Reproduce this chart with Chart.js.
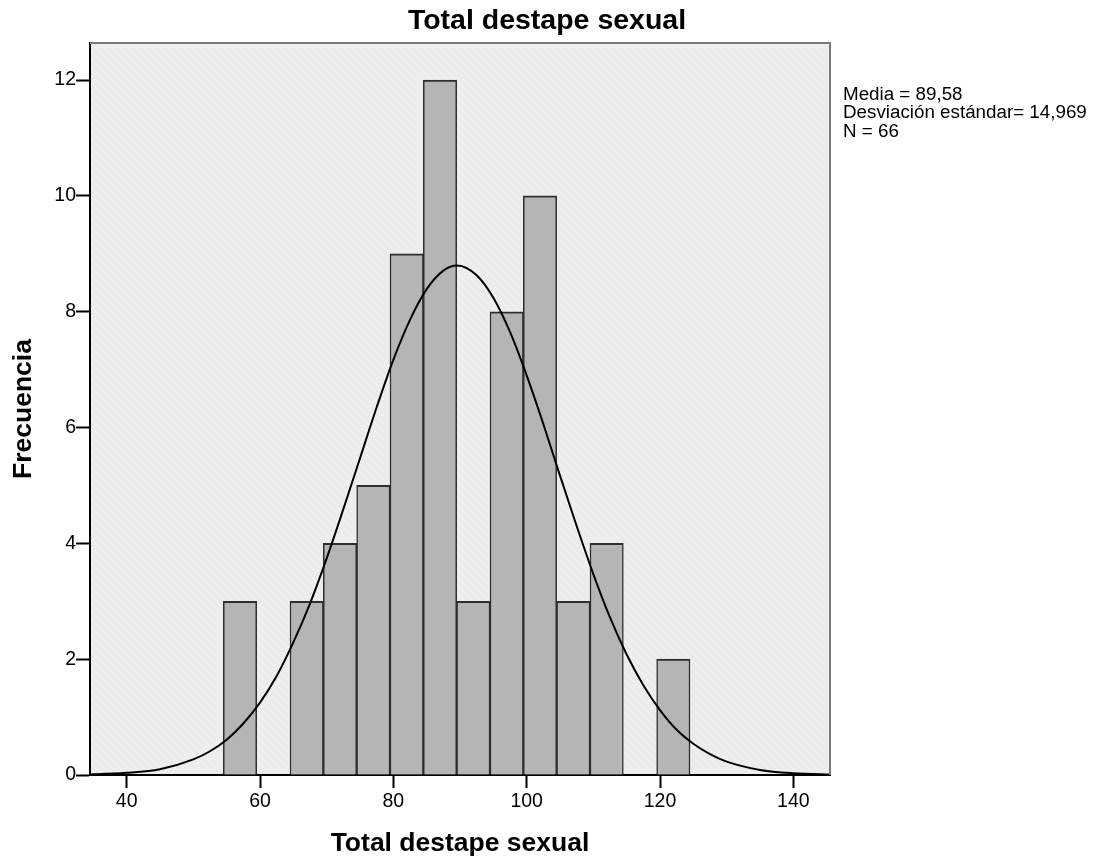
<!DOCTYPE html>
<html>
<head>
<meta charset="utf-8">
<script src="https://cdn.jsdelivr.net/npm/chart.js@4.4.1/dist/chart.umd.min.js"></script>
<style>
  html, body { margin: 0; padding: 0; background: #ffffff; }
  #wrap { width: 1102px; height: 861px; }
</style>
</head>
<body>
<div id="wrap"><canvas id="c" width="1102" height="861"></canvas></div>
<script>
// ---- data ----
const chartTitle = "Total destape sexual";
const xAxisTitle = "Total destape sexual";
const yAxisTitle = "Frecuencia";
const binCenters = [57, 62, 67, 72, 77, 82, 87, 92, 97, 102, 107, 112, 117, 122];
const frequencies = [3, 0, 3, 4, 5, 9, 12, 3, 8, 10, 3, 4, 0, 2];
const curveX = [34.5, 35, 40, 45, 50, 52.5, 55, 57.5, 60, 62.5, 65, 67.5, 70, 72.5, 75, 77.5, 80, 82.5, 85, 87.5, 89.58,
                92.5, 95, 97.5, 100, 102.5, 105, 107.5, 110, 112.5, 115, 117.5, 120, 122.5, 125, 127.5, 130, 135, 140, 145, 145.5];
const curveY = [0.010, 0.011, 0.037, 0.10, 0.27, 0.41, 0.61, 0.89, 1.25, 1.71, 2.29, 2.96, 3.74, 4.59, 5.47, 6.35, 7.17, 7.86, 8.39, 8.71, 8.80,
                8.63, 8.24, 7.65, 6.90, 6.06, 5.17, 4.30, 3.47, 2.72, 2.08, 1.55, 1.12, 0.78, 0.54, 0.36, 0.23, 0.088, 0.030, 0.009, 0.008];
const xTicks = [40, 60, 80, 100, 120, 140];
const yTicks = [0, 2, 4, 6, 8, 10, 12];
const statsLines = ["Media = 89,58", "Desviación estándar= 14,969", "N = 66"];

const xMin = 34.5, xMax = 145.5, yMin = 0, yMax = 12.64;

// dotted background pattern like the reference
function makePattern(ctx) {
  const p = document.createElement('canvas');
  p.width = 8; p.height = 8;
  const g = p.getContext('2d');
  g.fillStyle = '#ececec';
  g.fillRect(0, 0, 8, 8);
  g.fillStyle = 'rgba(255,255,255,0.85)';
  g.fillRect(1, 1, 1, 1);
  g.fillRect(5, 3, 1, 1);
  g.fillRect(3, 5, 1, 1);
  g.fillRect(7, 7, 1, 1);
  return ctx.createPattern(p, 'repeat');
}

const decor = {
  id: 'decor',
  beforeDraw(chart) {
    const {ctx, chartArea: a} = chart;
    ctx.save();
    ctx.fillStyle = makePattern(ctx);
    ctx.fillRect(a.left, a.top, a.right - a.left, a.bottom - a.top);
    ctx.restore();
  },
  afterDraw(chart) {
    const {ctx, chartArea: a} = chart;
    ctx.save();
    // top / right frame
    ctx.strokeStyle = '#7a7a7a';
    ctx.lineWidth = 2;
    ctx.beginPath();
    ctx.moveTo(a.left, a.top);
    ctx.lineTo(a.right, a.top);
    ctx.lineTo(a.right, a.bottom);
    ctx.stroke();
    // title
    ctx.fillStyle = '#000';
    ctx.font = 'bold 28.5px "Liberation Sans", Arial, sans-serif';
    ctx.textAlign = 'center';
    ctx.textBaseline = 'alphabetic';
    ctx.fillText(chartTitle, 547, 29);
    // stats
    ctx.font = '18.8px "Liberation Sans", Arial, sans-serif';
    ctx.textAlign = 'left';
    statsLines.forEach((s, i) => ctx.fillText(s, a.right + 13, 100 + i * 18.3));
    ctx.restore();
  }
};

new Chart(document.getElementById('c'), {
  type: 'bar',
  data: {
    datasets: [
      {
        type: 'line',
        data: curveX.map((x, i) => ({x: x, y: curveY[i]})),
        borderColor: '#000',
        borderWidth: 2,
        pointRadius: 0,
        cubicInterpolationMode: 'monotone',
        fill: false,
        order: 1
      },
      {
        type: 'bar',
        data: binCenters.map((x, i) => ({x: x, y: frequencies[i]})),
        backgroundColor: '#b5b5b5',
        borderColor: '#2e2e2e',
        borderWidth: {top: 2, left: 1.5, right: 1.5, bottom: 0},
        borderSkipped: false,
        barPercentage: 1.0,
        categoryPercentage: 1.0,
        order: 2
      }
    ]
  },
  options: {
    responsive: false,
    animation: false,
    devicePixelRatio: 1,
    layout: { padding: { top: 43, right: 272, left: 0, bottom: 0 } },
    plugins: { legend: { display: false }, tooltip: { enabled: false }, title: { display: false } },
    scales: {
      x: {
        type: 'linear',
        min: xMin, max: xMax,
        offset: false,
        afterBuildTicks: s => { s.ticks = xTicks.map(v => ({value: v})); },
        afterFit: s => { s.height = 86; },
        grid: { offset: false, drawOnChartArea: false, drawTicks: true, tickLength: 13, tickWidth: 2, tickColor: '#000', color: '#000' },
        border: { display: true, color: '#000', width: 2 },
        ticks: { color: '#000', padding: 2, autoSkip: false, maxRotation: 0,
                 font: { family: '"Liberation Sans", Arial, sans-serif', size: 19.5 } },
        title: { display: true, text: xAxisTitle, color: '#000', padding: { top: 0, bottom: 1.3 },
                 font: { family: '"Liberation Sans", Arial, sans-serif', size: 26.5, weight: 'bold' } }
      },
      y: {
        type: 'linear',
        min: yMin, max: yMax,
        afterBuildTicks: s => { s.ticks = yTicks.map(v => ({value: v})); },
        afterFit: s => { s.width = 90; },
        grid: { offset: false, drawOnChartArea: false, drawTicks: true, tickLength: 14, tickWidth: 2, tickColor: '#000', color: '#000' },
        border: { display: true, color: '#000', width: 2 },
        ticks: { color: '#000', padding: 0, autoSkip: false,
                 font: { family: '"Liberation Sans", Arial, sans-serif', size: 19.5 } },
        title: { display: true, text: yAxisTitle, color: '#000', padding: { top: 7.9, bottom: 0 },
                 font: { family: '"Liberation Sans", Arial, sans-serif', size: 26.5, weight: 'bold' } }
      }
    }
  },
  plugins: [decor]
});
</script>
</body>
</html>
